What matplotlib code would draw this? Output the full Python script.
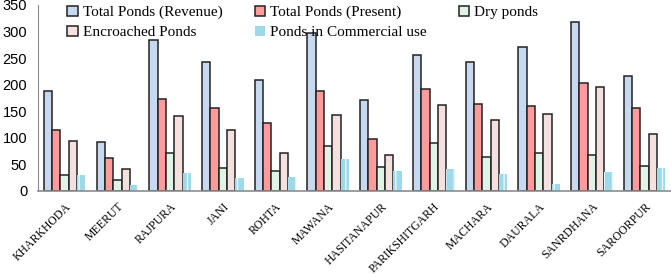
import numpy as np
import matplotlib
matplotlib.use("Agg")
import matplotlib.pyplot as plt

places = ['KHARKHODA', 'MEERUT', 'RAJPURA', 'JANI', 'ROHTA', 'MAWANA',
          'HASITANAPUR', 'PARIKSHITGARH', 'MACHARA', 'DAURALA',
          'SANRDHANA', 'SAROORPUR']

revenue = [189, 92, 284, 242, 208, 297, 171, 255, 242, 270, 317, 216]
present = [114, 62, 173, 156, 127, 189, 97, 191, 163, 160, 203, 157]
dry = [30, 20, 71, 43, 38, 85, 45, 90, 64, 71, 67, 47]
encroached = [94, 42, 141, 114, 72, 142, 67, 161, 133, 144, 195, 107]
commercial = [30, 11, 34, 25, 27, 60, 37, 41, 32, 13, 36, 43]

labels = ['Total Ponds (Revenue)', 'Total Ponds (Present)', 'Dry ponds',
          'Encroached Ponds', 'Ponds in Commercial use']
colors = ['#C6D9F1', '#FF9B9B', '#E0F4E6', '#F4E0DF', '#9ED9EA']

fig = plt.figure(figsize=(6.71, 2.74), dpi=100)
ax = fig.add_axes([0.057, 0.303, 0.943, 0.679])

x = np.arange(len(places))
w = 0.158
series = [revenue, present, dry, encroached, commercial]
handles = []
for i, vals in enumerate(series):
    pos = x + (i - 2) * w
    if i < 4:
        b = ax.bar(pos, vals, w, color=colors[i], edgecolor='#222222',
                   linewidth=1.1, label=labels[i])
    else:
        b = ax.bar(pos, vals, w, color=colors[i], edgecolor='none',
                   linewidth=0, label=labels[i])
        # light vertical stripes on the commercial bars
        ax.bar(pos, vals, w, color='none', edgecolor='#E8F7FB', hatch='||',
               linewidth=0)
    handles.append(b)

ax.set_xlim(-0.5, len(places) - 0.5)
ax.set_ylim(0, 350)
ax.set_yticks(range(0, 351, 50))
ax.tick_params(axis='both', length=0)
ax.tick_params(axis='y', labelsize=10.5, pad=8)
for t in ax.get_yticklabels():
    t.set_family('Liberation Sans')

ax.set_xticks(x)
ax.set_xticklabels(places, rotation=45, ha='right', rotation_mode='anchor',
                   family='Liberation Serif', fontsize=8.5)
ax.tick_params(axis='x', pad=7)

for s in ['top', 'right']:
    ax.spines[s].set_visible(False)
ax.spines['left'].set_color('#8C8C8C')
ax.spines['bottom'].set_color('#8C8C8C')
ax.spines['bottom'].set_linewidth(1.2)

# legend fills column by column, so reorder to read row by row
order = [0, 3, 1, 4, 2]
fig.legend([handles[k] for k in order], [labels[k] for k in order],
           ncol=3, frameon=False, loc='upper left',
           bbox_to_anchor=(0.08, 1.03), prop={'family': 'Liberation Serif', 'size': 11},
           handlelength=0.7, handleheight=0.7, handletextpad=0.3,
           columnspacing=2.1, labelspacing=0.4)

fig.savefig('out.png', dpi=100)
